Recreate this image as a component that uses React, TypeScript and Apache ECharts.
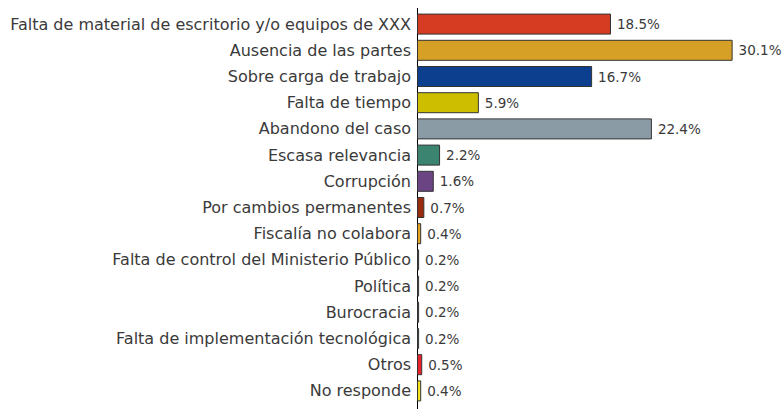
import React, { useEffect, useRef } from "react";
import * as echarts from "echarts";

const categories = [
  "Falta de material de escritorio y/o equipos de XXX",
  "Ausencia de las partes",
  "Sobre carga de trabajo",
  "Falta de tiempo",
  "Abandono del caso",
  "Escasa relevancia",
  "Corrupción",
  "Por cambios permanentes",
  "Fiscalía no colabora",
  "Falta de control del Ministerio Público",
  "Política",
  "Burocracia",
  "Falta de implementación tecnológica",
  "Otros",
  "No responde",
];
const values = [18.5, 30.1, 16.7, 5.9, 22.4, 2.2, 1.6, 0.7, 0.4, 0.2, 0.2, 0.2, 0.2, 0.5, 0.4];
const colors = [
  "#D63C22", "#D6A026", "#0C3F8E", "#CDBE00", "#8A9BA5", "#3B8470", "#6B4484",
  "#9A2A0E", "#E4A21E", "#2F4A5C", "#9CAA1E", "#5A3A82", "#1A8FB0", "#E8242A", "#F6E21A",
];

export default function App() {
  const ref = useRef<HTMLDivElement>(null);
  useEffect(() => {
    const chart = echarts.init(ref.current!, undefined, { renderer: "svg" });
    chart.setOption({
      animation: false,
      grid: { left: 417, top: 11, width: 367, height: 393 },
      xAxis: {
        type: "value",
        min: 0,
        max: 35,
        show: false,
      },
      yAxis: {
        type: "category",
        inverse: true,
        data: categories,
        axisLine: { show: true, lineStyle: { color: "#000", width: 1 } },
        axisTick: { show: false },
        axisLabel: {
          color: "#3a3a3a",
          fontSize: 16,
          fontFamily: "DejaVu Sans",
          margin: 6,
        },
      },
      graphic: [
        {
          type: "line",
          shape: { x1: 417.5, y1: 8, x2: 417.5, y2: 409 },
          style: { stroke: "#000", lineWidth: 1 },
          silent: true,
        },
      ],
      series: [
        {
          type: "bar",
          barWidth: 21,
          data: values.map((v, i) => ({
            value: v,
            itemStyle: { color: colors[i], borderColor: "#333", borderWidth: 1 },
          })),
          label: {
            show: true,
            position: "right",
            distance: 6,
            color: "#3a3a3a",
            fontSize: 13.5,
            fontFamily: "DejaVu Sans",
            formatter: (p: any) => p.value.toFixed(1) + "%",
          },
        },
      ],
    });
    return () => chart.dispose();
  }, []);
  return <div ref={ref} style={{ width: 784, height: 409, position: "absolute", left: 0, top: 0 }} />;
}
